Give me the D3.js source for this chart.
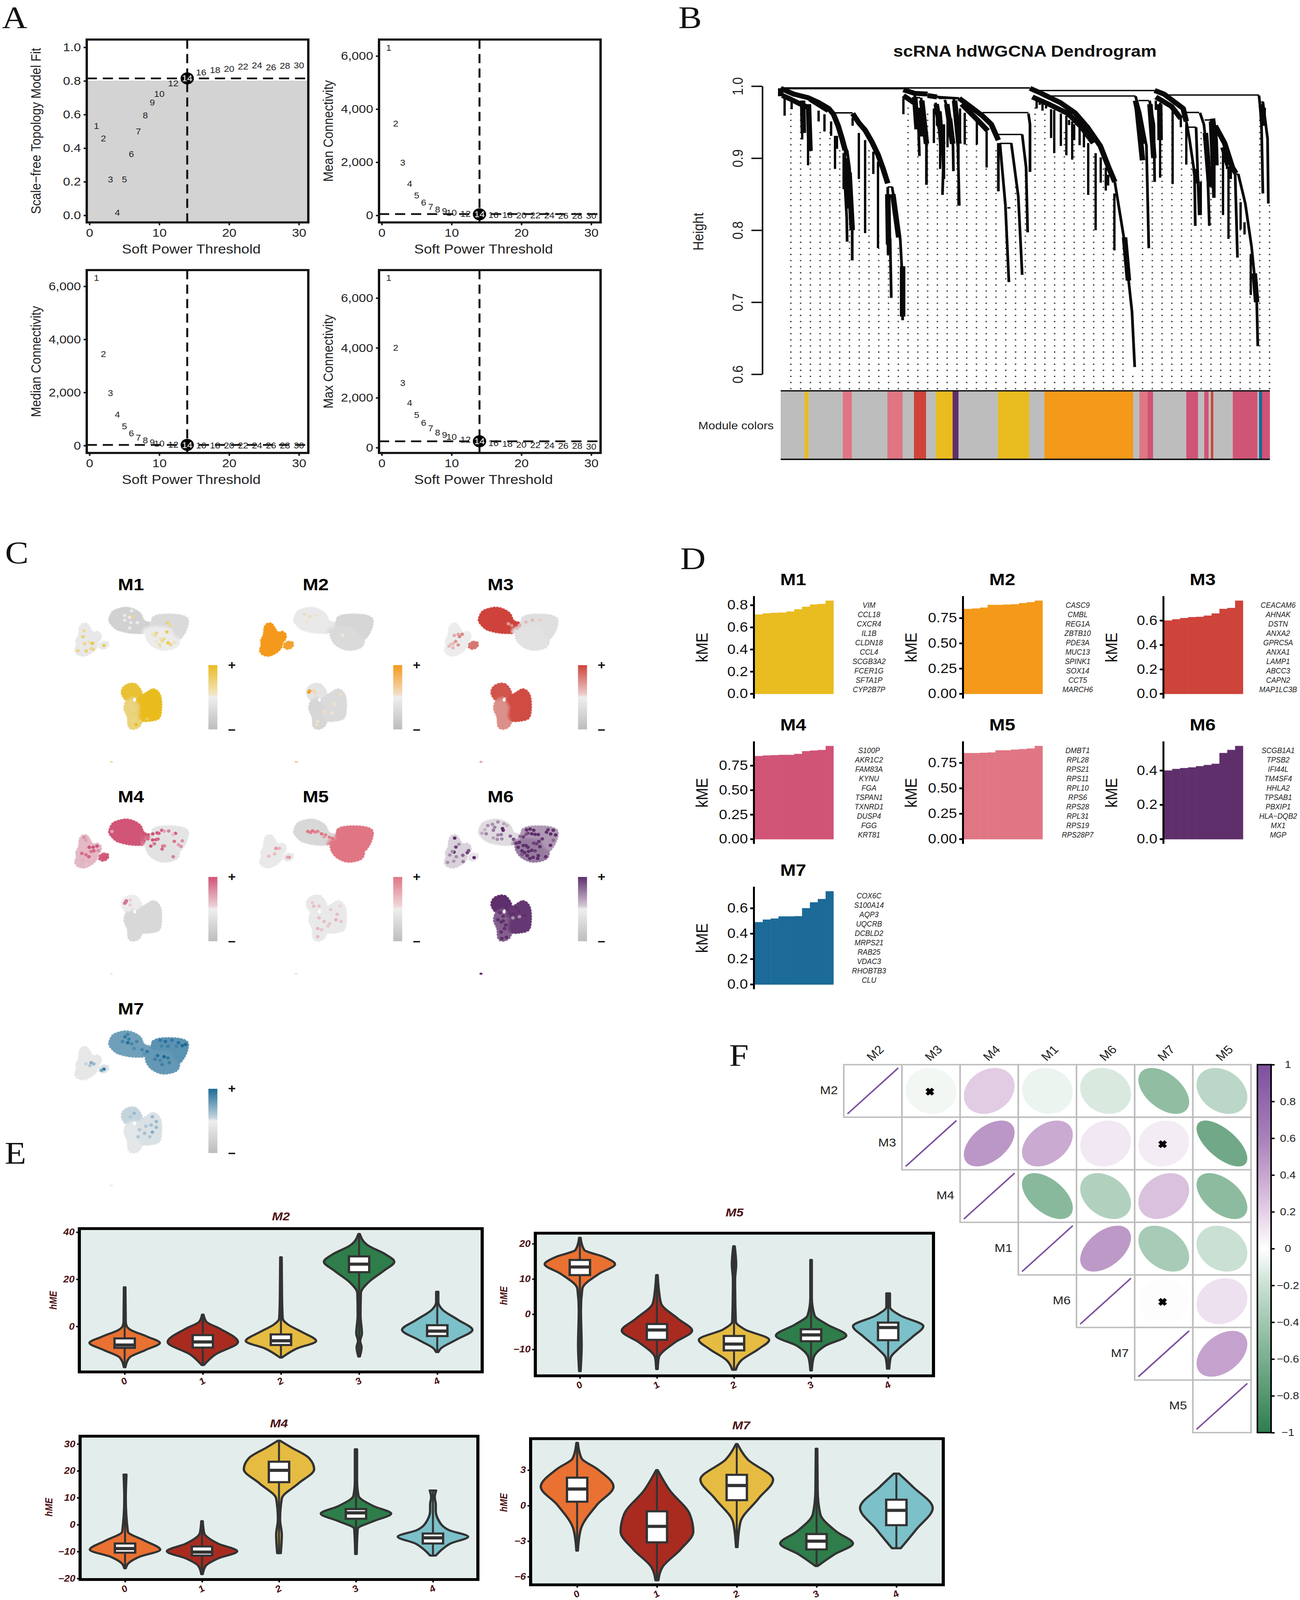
<!DOCTYPE html>
<html><head><meta charset="utf-8">
<style>html,body{margin:0;padding:0;background:#fff;overflow:hidden}svg{display:block}text{font-family:"Liberation Sans",Arial,sans-serif}</style>
<script src="https://cdn.jsdelivr.net/npm/d3@7"></script></head><body><div id="c"></div>
<script>
// ---------- Panel A data
const softPowers=[1,2,3,4,5,6,7,8,9,10,12,14,16,18,20,22,24,26,28,30];
const scaleFreeFit=[.532,.458,.215,.017,.213,.365,.50,.595,.671,.724,.787,.815,.852,.865,.873,.886,.894,.882,.89,.894];
const meanConn=[6310,3450,1983,1190,745,480,325,228,168,108,60,40,20,12,5,-5,-5,-8,-8,-15];
const medianConn=[6326,3446,1976,1169,723,458,301,193,120,84,36,24,8,5,2,0,0,0,0,0];
const maxConn=[6808,4013,2590,1795,1320,1000,782,615,513,436,320,256,192,154,128,102,90,77,77,51];
// ---------- Panel B data
const moduleColors={M1:"#E9BC1F",M2:"#F4991A",M3:"#CE433A",M4:"#D05476",M5:"#E07683",M6:"#5F2F6C",M7:"#1B6A97",grey:"#BDBDBD"};
const stripModules=["grey","M1","grey","M5","grey","M5","grey","M3","grey","M1","M1","M6","grey","M1","grey","M2","grey","M5","M4","grey","M4","grey","M4","grey","M3","grey","M4","grey","M7","M4"];
const stripEnds=[61,71,159,182,273,312,341,372,397,415,440,455,556,636,675,902,918,939,953,1038,1068,1084,1095,1101,1107,1157,1220,1224,1232,1252];
const topMerges=[[0,314,.997],[314,638,.9975],[646,957,.9939],[679,908,.9863],[981,1224,.9877]];
const subMerges=[[135,184,.9629],[516,634,.9633],[555,618,.9329],[561,590,.9205],[163,172,.9118],[274,286,.860],[343,376,.989],[347,357,.984],[404,457,.983],[580,588,.831],[916,942,.980],[1034,1071,.9635],[1085,1099,.953],[1044,1063,.943],[1163,1171,.878],[1230,1236,.978]];
const thickBranches=[
[[0,.997],[16,.993],[33,.989],[70,.984],[98,.977],[123,.969],[135,.961],[147,.945],[157,.927],[165,.911]],
[[4,.987],[25,.982],[47,.976],[68,.971]],[[0,.997],[0,.986]],[[75,.982],[122,.966]],
[[184,.962],[200,.949],[216,.939],[233,.923],[249,.905],[261,.887],[274,.865]],
[[314,.995],[343,.990],[376,.989]],[[314,.987],[341,.977]],[[376,.987],[400,.985]],
[[457,.983],[482,.973],[516,.959],[539,.947],[557,.925]],
[[638,.997],[663,.991],[716,.977],[753,.963],[785,.943],[818,.917],[838,.889],[855,.867]],
[[912,.971],[926,.897]],[[957,.994],[981,.989],[1030,.969],[1038,.951]],
[[1112,.945],[1136,.921],[1156,.887],[1165,.879]],[[355,.97],[358,.93]],[[405,.965],[412,.92]],[[432,.955],[440,.92]],
[[644,.985],[690,.974],[735,.962],[770,.943],[800,.921]],[[960,.985],[1000,.972],[1024,.955]],[[463,.975],[500,.955],[530,.938]],[[1105,.955],[1112,.925],[1114,.89]],[[1235,.97],[1234,.945]],
[[343,.985],[349,.94]],[[361,.98],[373,.92]],[[398,.975],[415,.92]],[[425,.975],[440,.92]],[[445,.98],[456,.92]],[[56,.98],[58,.935]],[[71,.975],[75,.91]],[[165,.90],[172,.83]],[[175,.88],[183,.80]],[[274,.85],[276,.78]],[[287,.85],[302,.79]],[[312,.75],[312,.68]],
[[908,.98],[920,.95]],[[915,.965],[930,.92]],[[945,.975],[955,.90]],[[970,.975],[971,.925]],[[1060,.885],[1066,.865]],[[1087,.935],[1098,.86]],[[1110,.94],[1112,.90]],[[1132,.915],[1145,.89]],[[1212,.74],[1218,.70]],[[1230,.975],[1234,.945]],[[880,.79],[890,.73]]];
const thinBranches=[
[[165,.911],[163,.887],[165,.857],[169,.817],[170,.784]],[[170,.911],[176,.887],[180,.857],[183,.827],[183,.758]],
[[274,.860],[274,.807],[275,.765]],[[285,.860],[292,.837],[300,.807],[306,.787],[310,.747],[312,.693],[312,.675]],[[280,.789],[283,.706]],
[[343,.987],[351,.957],[353,.937],[355,.903]],[[359,.984],[369,.947],[373,.917],[373,.863]],
[[400,.985],[457,.983]],[[396,.977],[412,.937],[416,.887],[414,.849]],[[420,.981],[433,.957],[441,.917],[442,.882]],[[443,.983],[453,.927],[457,.834]],
[[557,.921],[557,.854]],[[561,.921],[575,.835],[584,.728]],[[590,.921],[608,.847],[618,.738]],[[618,.933],[628,.887],[632,.797]],[[634,.962],[638,.947],[638,.881]],
[[855,.867],[867,.827],[879,.787],[891,.727],[899,.687],[906,.610]],[[908,.986],[920,.963],[936,.917],[942,.775]],[[944,.980],[955,.947],[957,.867]],
[[1038,.951],[1046,.927],[1059,.879],[1061,.806]],[[1073,.963],[1083,.947],[1091,.907],[1097,.806]],[[1063,.943],[1071,.821]],
[[1171,.878],[1189,.837],[1205,.777],[1218,.707],[1221,.639]],[[1163,.878],[1169,.762]],[[1099,.951],[1108,.845]],
[[1224,.987],[1230,.957],[1234,.851]],[[1234,.978],[1246,.927],[1248,.837]]];
const drops=[[10,.983,.959],[28,.979,.968],[55,.979,.926],[59,.975,.939],[70,.973,.890],[97,.966,.951],[112,.961,.937],[129,.951,.931],[139,.931,.885],[144,.931,.913],[161,.907,.857],[184,.956,.945],[200,.935,.871],[216,.925,.796],[237,.909,.878],[249,.895,.775],[314,.983,.961],[527,.937,.887],[502,.955,.919],[471,.963,.919],[459,.969,.927],[392,.969,.921],[400,.955,.945],[455,.927,.835],[418,.947,.871],[408,.937,.885],[427,.957,.915],
[655,.980,.969],[663,.979,.974],[670,.977,.966],[679,.973,.969],[692,.968,.928],[700,.967,.907],[717,.962,.917],[731,.959,.904],[738,.953,.946],[746,.951,.898],[751,.947,.925],[765,.943,.918],[776,.936,.915],[787,.921,.849],[806,.907,.800],[819,.901,.866],[832,.887,.855],[838,.877,.862],[854,.851,.772],[883,.787,.748],[960,.980,.967],[971,.977,.873],[1003,.966,.864],[1024,.957,.943],[1038,.947,.891],[1110,.947,.845],[1132,.915,.821],[1146,.889,.788],[1152,.891,.871],[1187,.811,.794],[1203,.767,.710],[1177,.839,.801],[1142,.903,.885],[1075,.867,.821]];
const guideTops=[.970,.961,.961,.944,.944,.911,.860,.920,.911,.792,.831,.776,.970,.928,.961,.953,.945,.920,.953,.944,.928,.911,.826,.869,.877,.970,.961,.953,.944,.936,.911,.902,.886,.844,.785,.60,.894,.911,.961,.953,.944,.894,.937,.928,.902,.869,.843,.759,.953,.835];
// ---------- Panel C data (UMAP units)
const umapRegions=[
[[135,200],[160,212],[178,245],[205,282],[235,272],[260,295],[255,330],[235,355],[225,400],[190,440],[130,468],[85,452],[72,425],[85,380],[80,345],[100,300],[110,225]],
[[262,370],[290,358],[315,365],[315,385],[290,408],[262,405],[255,390]],
[[360,100],[400,80],[460,68],[520,85],[565,120],[585,170],[600,185],[640,200],[640,225],[600,270],[550,275],[480,270],[420,255],[385,240],[335,180],[335,155]],
[[660,180],[670,150],[720,130],[880,135],[925,160],[925,210],[900,280],[860,330],[830,300],[800,240],[740,225],[650,225]],
[[585,250],[650,225],[740,225],[800,240],[830,300],[860,330],[850,385],[820,405],[740,418],[680,395],[640,360],[615,295],[640,270],[590,270]],
[[490,715],[530,720],[570,780],[570,810],[520,820],[470,850],[430,790],[445,740]],
[[470,850],[510,825],[538,860],[560,900],[555,1000],[570,1030],[555,1070],[510,1090],[485,1075],[475,990],[450,920]],
[[605,800],[670,762],[710,800],[722,930],[705,1000],[640,1020],[580,1020],[555,1000],[560,900],[538,860],[570,820]]];
const umapSpeck=[345,1374];
const umapGap=[[512,845],[526,826],[534,856],[520,862]];
const modules=["M1","M2","M3","M4","M5","M6","M7"];
const regionLevels={M1:[-.12,-.1,-.6,-.4,-.05,.9,.55,1,.3],M2:[1,.9,-.1,-.5,-.4,-.2,-.5,-.4,.35],M3:[-.05,.7,1,-.3,-.25,.9,.55,.95,.4],M4:[.35,.95,1,-.2,-.25,-.05,-.45,-.45,-.05],M5:[-.1,-.1,-.45,1,1,-.1,-.1,-.1,-.1],M6:[.15,.05,.1,.45,.6,1,.75,.95,1],M7:[-.15,.1,.6,.7,.65,.2,.05,.1,-.05]};
const cellsM1=[[507,137,.5],[775,190,.6],[795,218,.4],[772,270,.7],[690,280,.5],[680,300,.35],[720,325,.2],[750,328,.4],[735,345,.45],[780,362,.75],[800,378,.5],[830,358,.25],[715,375,.3],[720,390,.25],[665,290,.2],[688,352,.15],[135,260,.4],[127,310,.6],[140,370,.5],[178,358,.3],[200,367,.8],[88,430,.5],[152,432,.6],[190,412,.45],[205,417,.5],[288,385,.7],[447,130,-.1],[447,170,-.1],[495,190,-.15],[487,235,-.1],[545,190,-.1],[484,145,-.1],[500,90,-.1],[510,940,.5],[490,900,.5],[520,960,.6],[510,1025,.5],[535,1057,.95],[565,1030,.6],[620,1010,.7]];
const cellsM2=[[443,781,1],[448,771,.9],[480,770,.3],[490,790,.25],[410,120,.2],[450,140,.2],[500,130,.15],[430,180,.15],[700,300,.1],[560,950,.2],[640,880,.15],[690,800,.2],[500,1060,.2],[510,1030,.15],[620,960,.15]];
const cellsM3=[[555,200,.5],[580,215,.6],[640,215,.4],[690,185,.3],[740,170,.3],[800,170,.2],[620,240,.3],[140,300,.4],[170,290,.4],[200,290,.6],[180,310,.6],[150,350,.5],[130,370,.3],[170,380,.5],[115,375,.25],[100,390,.3],[130,405,.3]];
const cellsM4=[[732,155,.9],[750,163,.5],[785,162,.7],[663,186,1],[697,178,1],[710,182,.9],[837,182,.95],[818,190,.3],[662,237,1],[688,235,.9],[703,230,.85],[582,220,.9],[612,215,.8],[625,228,.85],[595,245,.9],[588,262,.8],[648,290,.95],[675,270,.8],[740,290,.8],[752,288,.7],[735,315,.85],[828,250,.8],[890,245,.6],[860,278,.5],[880,292,.6],[820,380,.7],[175,300,1],[205,300,1],[235,290,1],[210,330,.9],[245,328,.6],[190,335,.8],[118,352,.85],[150,363,.8],[172,380,.9],[135,215,.6],[150,240,.5],[125,410,.4],[155,445,.3],[288,385,1],[300,378,1],[350,165,.5],[455,765,.8],[448,775,.8],[460,755,.8],[490,790,.2],[490,748,.2],[483,830,-.02]];
const cellsM5=[[435,165,1],[455,175,.9],[470,160,1],[490,170,.9],[510,165,.9],[540,185,1],[570,195,.9],[600,215,.9],[625,225,1],[560,210,.7],[190,310,.7],[215,310,.5],[135,375,.4],[180,355,.4],[290,385,.8],[278,385,.6],[470,770,.3],[480,800,.4],[520,800,.35],[610,830,.3],[660,870,.4],[680,800,.2],[520,900,.4],[560,930,.4],[600,950,.35],[650,915,.5],[690,930,.35],[510,990,.45],[540,1000,.35],[590,970,.3],[510,1060,.4]];
const cellsM6=[[510,140,1],[515,155,1],[143,222,1],[137,340,1],[152,298,.9],[240,345,.9],[250,328,.8],[205,368,.7],[292,388,1],[695,152,1],[722,145,1],[750,155,1],[735,185,1],[760,190,1],[785,192,1],[705,180,.9],[690,190,.8],[860,150,.95],[900,155,1],[848,172,1],[880,187,1],[918,195,1],[815,228,.95],[790,250,.95],[750,265,.9],[772,270,.9],[878,283,1],[900,240,.7],[797,295,1],[570,205,.7],[595,232,.8],[645,207,.7],[670,212,.9],[615,265,.95],[640,258,1],[630,300,1],[690,285,1],[705,300,1],[670,285,1],[660,330,1],[680,345,1],[710,335,1],[735,325,1],[760,330,.9],[700,370,1],[720,395,1],[745,385,1],[785,370,1],[780,395,1],[842,380,1],[660,360,.8],[88,428,.5],[135,418,.45],[208,422,.6],[105,365,.5],[155,380,.5],[175,275,.5],[125,335,.5],[397,115,.5],[433,105,.5],[475,85,.5],[440,155,.6],[385,185,.55],[352,180,.35],[375,150,.3],[470,232,.5],[505,228,.5],[500,192,.6],[475,195,.55],[440,220,.4],[450,130,.55],[520,100,.4],[545,115,.3],[490,855,1],[515,885,1],[475,915,1],[500,935,1],[515,925,1],[535,960,1],[525,990,1],[500,1020,1],[505,1075,1],[540,1065,1],[595,865,1],[635,845,1],[620,815,1],[565,870,1],[550,880,.9],[680,880,1],[590,900,.5],[640,890,.5],[560,790,1],[550,825,1]];
const cellsM7=[[450,110,.9],[470,90,.8],[480,130,.85],[470,160,.95],[430,150,.8],[500,170,.8],[540,150,.8],[520,210,.75],[580,220,.8],[620,235,.9],[600,250,.7],[720,140,.9],[760,150,.95],[810,140,.9],[860,160,.95],[890,185,1],[915,175,1],[780,190,.85],[730,190,.8],[845,190,.8],[700,270,.95],[750,280,1],[680,300,.85],[720,310,.8],[780,290,.9],[790,330,.85],[735,345,.85],[190,330,.5],[210,340,.4],[150,340,.2],[180,355,.3],[288,385,.9],[270,395,.6],[520,760,.4],[490,790,.3],[660,790,.4],[690,830,.4],[650,860,.35],[610,870,.3],[560,900,.3],[660,920,.5],[690,880,.4],[640,960,.3],[550,960,.3],[600,930,.35]];
const moduleCells={M1:cellsM1,M2:cellsM2,M3:cellsM3,M4:cellsM4,M5:cellsM5,M6:cellsM6,M7:cellsM7};
// ---------- Panel D data
const genesM1=["VIM","CCL18","CXCR4","IL1B","CLDN18","CCL4","SCGB3A2","FCER1G","SFTA1P","CYP2B7P"];
const genesM2=["CASC9","CMBL","REG1A","ZBTB10","PDE3A","MUC13","SPINK1","SOX14","CCT5","MARCH6"];
const genesM3=["CEACAM6","AHNAK","DSTN","ANXA2","GPRC5A","ANXA1","LAMP1","ABCC3","CAPN2","MAP1LC3B"];
const genesM4=["S100P","AKR1C2","FAM83A","KYNU","FGA","TSPAN1","TXNRD1","DUSP4","FGG","KRT81"];
const genesM5=["DMBT1","RPL28","RPS21","RPS11","RPL10","RPS6","RPS28","RPL31","RPS19","RPS28P7"];
const genesM6=["SCGB1A1","TPSB2","IFI44L","TM4SF4","HHLA2","TPSAB1","PBXIP1","HLA\u2212DQB2","MX1","MGP"];
const genesM7=["COX6C","S100A14","AQP3","UQCRB","DCBLD2","MRPS21","RAB25","VDAC3","RHOBTB3","CLU"];
const kmeM1=[.715,.725,.73,.732,.742,.762,.785,.805,.81,.84];
const kmeM2=[.84,.844,.853,.88,.88,.883,.886,.898,.907,.922];
const kmeM3=[.60,.61,.62,.6275,.63,.64,.6575,.695,.7025,.7625];
const kmeM4=[.847,.853,.856,.859,.859,.869,.897,.903,.909,.95];
const kmeM5=[.846,.846,.849,.852,.873,.873,.88,.885,.891,.916];
const kmeM6=[.40,.409,.414,.418,.425,.432,.439,.502,.52,.543];
const kmeM7=[.49,.51,.518,.535,.535,.537,.60,.646,.672,.733];
const kmeTicks={M1:[0,.2,.4,.6,.8],M2:[0,.25,.5,.75],M3:[0,.2,.4,.6],M4:[0,.25,.5,.75],M5:[0,.25,.5,.75],M6:[0,.2,.4],M7:[0,.2,.4,.6]};
// ---------- Panel F data
const corrOrder=["M2","M3","M4","M1","M6","M7","M5"];
const corrRows=[[1,-.05,.22,-.07,-.14,-.48,-.27],[1,.48,.38,.1,.08,-.65],[1,-.52,-.32,.27,-.50],[1,.47,-.37,-.2],[1,.01,.13],[1,.42],[1]];
const corrNS=[[0,1],[1,5],[4,5]];
const corrTicks=[1,.8,.6,.4,.2,0,-.2,-.4,-.6,-.8,-1];
// ---------- Panel E data: each violin = profile [hME,density], box [q1,median,q3]
const clusters=[0,1,2,3,4];
const violinColors=["#E97132","#A92B20","#E5BB42","#2E7D4A","#7CC0C9"];
const vM2=[[[16.6,.02],[2,.03],[0,.06],[-1.2,.14],[-4.4,.65],[-7,1],[-10,.6],[-13.2,.14],[-17.3,.02]],[[5,.02],[2,.1],[-1.1,.5],[-6.6,1],[-12,.35],[-16.4,.03]],[[29.3,.02],[12,.03],[3.3,.05],[.8,.2],[-2.4,.6],[-6.2,1],[-9.4,.45],[-13.2,.03]],[[39.2,.02],[34.4,.25],[30.6,.75],[27.4,1],[23.6,.7],[18.5,.25],[14.1,.05],[4.6,.04],[-3,.08],[-6.2,.03],[-8.8,.07],[-12.8,.02]],[[14.7,.03],[10.3,.03],[7.1,.15],[2.7,.6],[-1.5,1],[-5.6,.55],[-9.4,.1],[-10.9,.03]]];
const bM2=[[-9.1,-7.9,-5.1],[-9,-6.6,-3.7],[-7.9,-6.1,-3.4],[23,26.4,29.7],[-4.1,-2,.5]];
const vM5=[[[21.7,.02],[18.3,.12],[16.2,.7],[14.2,1],[11.5,.55],[7.2,.07],[1.2,.03],[-9,.05],[-16.2,.02]],[[11.1,.02],[6.4,.06],[3,.12],[-1.3,.6],[-4.7,1],[-8.1,.5],[-12.4,.05],[-15.6,.02]],[[19.3,.02],[14.1,.06],[9.8,.03],[-2.1,.05],[-4.3,.3],[-7.3,1],[-9.9,.7],[-13.2,.2],[-15.8,.05]],[[15.4,.02],[4.7,.02],[-.4,.1],[-2.9,.45],[-6.1,1],[-9,.4],[-12.4,.07],[-16,.02]],[[5.9,.05],[2.1,.05],[-.4,.35],[-3.4,1],[-6.4,.7],[-9.8,.3],[-12.4,.07],[-15.5,.03]]];
const bM5=[[11.1,13.4,15.4],[-7.3,-4.5,-2.8],[-10.3,-8.5,-6.2],[-7.7,-5.9,-4.3],[-7.4,-3.8,-2.4]];
const vM4=[[[18.6,.04],[9.7,.02],[-2.6,.08],[-5.9,.55],[-9.3,1],[-12,.4],[-14.3,.1],[-16.2,.02]],[[1.3,.02],[-3.1,.06],[-7,.45],[-9.9,1],[-12.6,.45],[-15.4,.1],[-18.4,.02]],[[31.2,.03],[28.7,.35],[24.8,.85],[20.6,1],[15.3,.55],[9.7,.08],[1.9,.03],[-3.7,.08],[-10.6,.05]],[[28,.03],[16.4,.03],[10.8,.07],[6.9,.5],[4.1,1],[1.3,.5],[-1.5,.05],[-10.9,.02]],[[12.7,.09],[10.3,.05],[7.5,.08],[5.2,.08],[1.9,.15],[-2,.45],[-4.5,1],[-7,.5],[-9.3,.25],[-11.5,.08]]];
const bM4=[[-10.4,-8.9,-7],[-11.5,-10.2,-8.1],[15.8,20.2,23.4],[2.2,4.4,5.8],[-7,-4.9,-3.3]];
const vM7=[[[5.3,.02],[4,.12],[3.1,.55],[1.6,1],[.08,.55],[-2,.1],[-3.8,.02]],[[3,.02],[1.3,.35],[-.7,.9],[-2.2,1],[-3.7,.65],[-5.2,.15],[-6.3,.04]],[[5.2,.02],[3.9,.3],[2.2,1],[.6,.6],[-1.4,.1],[-3.5,.02]],[[4.8,.02],[1.3,.03],[-.7,.1],[-2.2,.55],[-3.2,1],[-4.1,.5],[-5.1,.03]],[[2.7,.07],[1.6,.45],[-.2,1],[-2,.55],[-3.6,.12]]];
const bM7=[[.33,1.4,2.36],[-3.1,-1.75,-.48],[.46,1.7,2.6],[-3.7,-3,-2.4],[-1.65,-.4,.5]];

const W=3327,H=4532;
// the browser window may be shorter than the design height: keep the whole figure in view
const shownH=Math.min(window.innerHeight||H,H);
const svg=d3.select("#c").append("svg").attr("width",W).attr("height",shownH).attr("viewBox",[0,0,W,H]).attr("preserveAspectRatio","none");
svg.append("rect").attr("width",W).attr("height",H).attr("fill","#fff");
const defs=svg.append("defs");
const serif='"Liberation Serif",serif';
[["A",5,80],["B",1736,80],["C",13,1595],["D",1741,1612],["E",12,3296],["F",1866,3020]].forEach(([t,x,y])=>
 svg.append("text").text(t).attr("x",x).attr("y",y).attr("font-size",90).style("font-family",serif).attr("fill","#111"));

// ---------- A
function softPanel(o){
 const g=svg.append("g"), [l,r,t,b]=o.frame;
 if(o.shade!=null){g.append("rect").attr("x",l).attr("width",r-l).attr("y",o.y(o.shade)).attr("height",b-o.y(o.shade)).attr("fill","#d3d3d3");}
 const x=d3.scaleLinear().domain([0,30]).range([l+7,l+543]);
 const yAx=g.append("g").attr("transform",`translate(${l},0)`).call(d3.axisLeft(o.y).tickValues(o.ticks).tickSize(8).tickPadding(7).tickFormat(o.fmt));
 const xAx=g.append("g").attr("transform",`translate(0,${b})`).call(d3.axisBottom(x).tickValues([0,10,20,30]).tickSize(8).tickPadding(9));
 [yAx,xAx].forEach(a=>{a.select(".domain").remove();a.selectAll("line").attr("stroke","#111").attr("stroke-width",4);a.selectAll("text").attr("font-size",33).attr("fill","#222");});
 const dash=s=>s.attr("stroke","#111").attr("stroke-width",5).attr("stroke-dasharray","26,15");
 dash(g.append("line").attr("x1",l).attr("x2",r).attr("y1",o.y(o.hline)).attr("y2",o.y(o.hline)));
 dash(g.append("line").attr("x1",x(14)).attr("x2",x(14)).attr("y1",t).attr("y2",b));
 g.selectAll("text.p").data(softPowers.map((p,i)=>[p,o.vals[i]])).enter().append("text").attr("class","p")
  .attr("x",d=>x(d[0])).attr("y",d=>o.y(d[1])).attr("dy",".36em").attr("text-anchor","middle").attr("font-size",24).attr("fill",d=>d[0]==14?"#fff":"#222")
  .text(d=>d[0]);
 g.insert("circle","text.p").attr("cx",x(14)).attr("cy",o.y(o.vals[11])).attr("r",17).attr("fill","#000");
 g.append("rect").attr("x",l).attr("y",t).attr("width",r-l).attr("height",b-t).attr("fill","none").attr("stroke","#111").attr("stroke-width",6);
 g.append("text").text("Soft Power Threshold").attr("x",(l+r)/2-16).attr("y",b+88).attr("text-anchor","middle").attr("font-size",37).attr("fill","#222");
 g.append("text").text(o.title).attr("transform",`translate(${o.tx},${(t+b)/2}) rotate(-90)`).attr("text-anchor","middle").attr("font-size",35).attr("fill","#222");
}
const comma=d3.format(",");
softPanel({frame:[222,789,112,630],y:d3.scaleLinear().domain([0,1]).range([610,134]),ticks:[0,.2,.4,.6,.8,1],fmt:d3.format(".1f"),vals:scaleFreeFit,hline:.815,shade:.802,title:"Scale\u2212free Topology Model Fit",tx:104});
softPanel({frame:[970,1537,112,630],y:d3.scaleLinear().domain([0,6000]).range([610,158.5]),ticks:[0,2000,4000,6000],fmt:comma,vals:meanConn,hline:50,title:"Mean Connectivity",tx:852});
softPanel({frame:[222,789,765,1283],y:d3.scaleLinear().domain([0,6000]).range([1262,811]),ticks:[0,2000,4000,6000],fmt:comma,vals:medianConn,hline:24,title:"Median Connectivity",tx:104});
softPanel({frame:[970,1537,765,1283],y:d3.scaleLinear().domain([0,6000]).range([1268,844]),ticks:[0,2000,4000,6000],fmt:comma,vals:maxConn,hline:256,title:"Max Connectivity",tx:852});

// ---------- B
(function(){
 const g=svg.append("g");
 const x=d3.scaleLinear().domain([0,1252]).range([1998,3250]);
 const y=d3.scaleLinear().domain([.6,1]).range([1060,244]);
 g.append("text").text("scRNA hdWGCNA Dendrogram").attr("x",2623).attr("y",161).attr("text-anchor","middle").attr("font-size",45.5).attr("font-weight","bold").attr("fill","#111");
 const ax=g.append("g").attr("transform","translate(1951,0)").call(d3.axisLeft(y).tickValues([.6,.7,.8,.9,1]).tickSize(28).tickSizeOuter(0).tickFormat(d3.format(".1f")));
 ax.selectAll("line").attr("stroke","#111").attr("stroke-width",4);
 ax.select(".domain").attr("stroke","#111").attr("stroke-width",4);
 ax.selectAll("text").attr("font-size",37).attr("fill","#222").attr("text-anchor","middle").attr("x",null).attr("dy",null).attr("transform","translate(-50,0) rotate(-90)");
 g.append("text").text("Height").attr("transform","translate(1800,656) rotate(-90)").attr("text-anchor","middle").attr("font-size",37).attr("fill","#222");
 const rowBase=.58005,rowStep=.008465;
 const dots=[];guideTops.forEach((t,i)=>{d3.range(0,47).forEach(k=>{const h=rowBase+k*rowStep;if(h<=t)dots.push([26+25*i,h]);});});
 g.append("g").selectAll("circle").data(dots).enter().append("circle").attr("cx",d=>x(d[0])).attr("cy",d=>y(d[1])).attr("r",2.1).attr("fill","#444");
 const line=d3.line().x(d=>x(d[0])).y(d=>y(d[1])).curve(d3.curveLinear);
 const br=(data,w)=>g.append("g").selectAll("path").data(data).enter().append("path").attr("d",line).attr("fill","none").attr("stroke","#0a0808").attr("stroke-width",w).attr("stroke-linejoin","round");
 br(thinBranches,7);
 g.append("g").selectAll("line").data(drops).enter().append("line").attr("x1",d=>x(d[0])).attr("x2",d=>x(d[0])).attr("y1",d=>y(d[1])).attr("y2",d=>y(d[2])).attr("stroke","#0a0808").attr("stroke-width",6);
 br(thickBranches,14);
 g.append("g").selectAll("line").data(topMerges).enter().append("line").attr("x1",d=>x(d[0])).attr("x2",d=>x(d[1])).attr("y1",d=>y(d[2])).attr("y2",d=>y(d[2])).attr("stroke","#0a0808").attr("stroke-width",(d,i)=>i==0?6:4);
 g.append("g").selectAll("line").data(subMerges).enter().append("line").attr("x1",d=>x(d[0])).attr("x2",d=>x(d[1])).attr("y1",d=>y(d[2])).attr("y2",d=>y(d[2])).attr("stroke","#0a0808").attr("stroke-width",4);
 g.append("g").selectAll("rect").data(stripModules).enter().append("rect").attr("x",(d,i)=>x(i?stripEnds[i-1]:0)).attr("width",(d,i)=>x(stripEnds[i])-x(i?stripEnds[i-1]:0)).attr("y",1107).attr("height",194).attr("fill",d=>moduleColors[d]);
 [1107,1301].forEach(v=>g.append("line").attr("x1",1998).attr("x2",3250).attr("y1",v).attr("y2",v).attr("stroke","#111").attr("stroke-width",4));
 g.append("text").text("Module colors").attr("x",1980).attr("y",1216).attr("text-anchor","end").attr("font-size",31).attr("fill","#222");
})();

// ---------- C
defs.append("filter").attr("id","soft").attr("x","-10%").attr("y","-10%").attr("width","120%").attr("height","120%").append("feGaussianBlur").attr("stdDeviation",3.5);
modules.forEach((m,i)=>{
 const ox=170+(i%3)*473,oy=1700+Math.floor(i/3)*600;
 const g=svg.append("g");
 const x=d3.scaleLinear().domain([0,1260]).range([ox,ox+420]);
 const y=d3.scaleLinear().domain([0,1260]).range([oy,oy+420]);
 const ramp=v=>v>=0?d3.interpolateRgb("#eeeeee",moduleColors[m])(v):d3.interpolateRgb("#eeeeee","#bdbdbd")(-v);
 const lv=regionLevels[m];
 const poly=d3.line().x(d=>x(d[0])).y(d=>y(d[1])).curve(d3.curveCatmullRomClosed);
 g.append("g").selectAll("path").data(umapRegions).enter().append("path").attr("d",poly).attr("fill",(d,k)=>ramp(lv[k]))
   .attr("stroke",(d,k)=>ramp(lv[k])).attr("stroke-width",9).attr("stroke-linecap","round").attr("stroke-dasharray","0,8");
 g.append("g").attr("filter","url(#soft)").selectAll("path").data(umapRegions).enter().append("path").attr("d",poly).attr("fill",(d,k)=>ramp(lv[k]));
 g.append("path").datum(umapGap).attr("d",poly).attr("fill","#fff");
 g.append("g").selectAll("circle").data(moduleCells[m]).enter().append("circle").attr("cx",d=>x(d[0])).attr("cy",d=>y(d[1])).attr("r",4.7).attr("fill",d=>ramp(d[2]));
 g.append("ellipse").attr("cx",x(umapSpeck[0])).attr("cy",y(umapSpeck[1])).attr("rx",4).attr("ry",3).attr("fill",ramp(lv[8]));
 const tx=335+(i%3)*473, ty=1672+Math.floor(i/3)*601;
 g.append("text").text(m).attr("x",tx).attr("y",ty).attr("text-anchor","middle").attr("font-size",48).attr("font-weight","bold").attr("fill","#000");
 const gid="cb"+m, lg=defs.append("linearGradient").attr("id",gid).attr("x1",0).attr("x2",0).attr("y1",0).attr("y2",1);
 lg.append("stop").attr("offset","0").attr("stop-color",moduleColors[m]);
 lg.append("stop").attr("offset","0.45").attr("stop-color",d3.interpolateRgb("#f3f0f0",moduleColors[m])(.22));
 lg.append("stop").attr("offset","0.5").attr("stop-color","#eeeeee");
 lg.append("stop").attr("offset","1").attr("stop-color","#bdbdbd");
 g.append("rect").attr("x",x(1090)).attr("y",y(552)).attr("width",23).attr("height",182).attr("fill",`url(#${gid})`);
 g.append("text").text("+").attr("x",x(1270)).attr("y",y(548)).attr("dy",".36em").attr("text-anchor","middle").attr("font-size",34).attr("font-weight","bold").attr("fill","#111");
 g.append("text").text("\u2212").attr("x",x(1270)).attr("y",y(1100)).attr("dy",".36em").attr("text-anchor","middle").attr("font-size",34).attr("font-weight","bold").attr("fill","#111");
});

// ---------- D
const kme={M1:kmeM1,M2:kmeM2,M3:kmeM3,M4:kmeM4,M5:kmeM5,M6:kmeM6,M7:kmeM7};
const genes={M1:genesM1,M2:genesM2,M3:genesM3,M4:genesM4,M5:genesM5,M6:genesM6,M7:genesM7};
const colAxis=[1929,2464,2977], colTitle=[2030,2565,3078], colGene=[2224,2758,3271];
modules.forEach((m,i)=>{
 const c=i%3,r=Math.floor(i/3),dy=r*411.6,vals=kme[m],mx=d3.max(vals);
 const g=svg.append("g");
 const y=d3.scaleLinear().domain([-.05*mx,1.05*mx]).range([1978+dy,1688+dy]);
 const x=d3.scaleBand().domain(d3.range(vals.length)).range([colAxis[c]+3,colAxis[c]+204]);
 g.append("g").selectAll("rect").data(vals).enter().append("rect").attr("x",(d,k)=>x(k)).attr("width",x.bandwidth()+.5).attr("y",d=>y(d)).attr("height",d=>y(0)-y(d)+1).attr("fill",moduleColors[m]);
 const ax=g.append("g").attr("transform",`translate(${colAxis[c]},0)`).call(d3.axisLeft(y).tickValues(kmeTicks[m]).tickSize(9).tickSizeOuter(0).tickPadding(6).tickFormat(kmeTicks[m].includes(.25)?d3.format(".2f"):d3.format(".1f")));
 ax.select(".domain").attr("stroke","#000").attr("stroke-width",5);
 ax.selectAll("line").attr("stroke","#000").attr("stroke-width",5);
 ax.selectAll("text").attr("font-size",38).attr("fill","#111");
 g.append("text").text("kME").attr("transform",`translate(${colAxis[c]-118},${1834+dy}) rotate(-90)`).attr("text-anchor","middle").attr("font-size",42).attr("fill","#111");
 g.append("text").text(m).attr("x",colTitle[c]).attr("y",1658+dy).attr("text-anchor","middle").attr("font-size",48).attr("font-weight","bold").attr("fill","#000");
 const gy=d3.scalePoint().domain(genes[m]).range([1714+dy,1953+dy]);
 g.append("g").selectAll("text").data(genes[m]).enter().append("text").text(d=>d).attr("transform",d=>`translate(${colGene[c]},${gy(d)}) scale(.84,1)`).attr("dy",".36em").attr("text-anchor","middle").attr("font-size",22).attr("font-style","italic").attr("fill","#222");
});

// ---------- F
(function(){
 const g=svg.append("g");
 const L=2159.4,T=3015.6,S=148.9;
 const x=d3.scaleBand().domain(corrOrder).range([L,L+7*S]);
 const y=d3.scaleBand().domain(corrOrder).range([T,T+7*S]);
 const col=d3.scaleLinear().domain([-1,-.5,-.2,0,.2,.4,.6,1]).range(["#2e7d4f","#8dbb9f","#c9e0d3","#ffffff","#e4d0e6","#c7a6cf","#a981bb","#7d4f9e"]);
 const rad=65;
 const ell=r=>{const d=Math.acos(r);return d3.line().curve(d3.curveLinearClosed)(d3.range(0,360,5).map(a=>{const t=a*Math.PI/180;return [rad*Math.cos(t+d/2),-rad*Math.cos(t-d/2)];}));};
 corrRows.forEach((row,i)=>row.forEach((r,k)=>{
  const a=corrOrder[i],b=corrOrder[i+k];
  g.append("rect").attr("x",x(b)).attr("y",y(a)).attr("width",S).attr("height",S).attr("fill","#fff").attr("stroke","#bdbdbd").attr("stroke-width",4);
  const cg=g.append("g").attr("transform",`translate(${x(b)+S/2},${y(a)+S/2})`);
  if(k==0) cg.append("line").attr("x1",-rad).attr("y1",rad).attr("x2",rad).attr("y2",-rad).attr("stroke","#7d4f9e").attr("stroke-width",4);
  else cg.append("path").attr("d",ell(r)).attr("fill",col(r));
 }));
 corrNS.forEach(([i,j])=>{
  const a=corrOrder[i],b=corrOrder[j];
  g.append("path").attr("transform",`translate(${x(b)+S/2-3},${y(a)+S/2+2})`).attr("d",d3.symbol(d3.symbolTimes,170)()).attr("stroke","#000").attr("stroke-width",9);
 });
 corrOrder.forEach((m,i)=>{
  g.append("text").text(m).attr("x",x(m)-15).attr("y",y(m)+S/2-3).attr("dy",".36em").attr("text-anchor","end").attr("font-size",33).attr("fill","#222");
  g.append("text").text(m).attr("transform",`translate(${x(m)+S/2-2},3007) rotate(-45)`).attr("font-size",33).attr("fill","#222");
 });
 const lg=defs.append("linearGradient").attr("id","corrBar").attr("x1",0).attr("x2",0).attr("y1",1).attr("y2",0);
 col.domain().forEach(v=>lg.append("stop").attr("offset",(v+1)/2).attr("stop-color",col(v)));
 const cy=d3.scaleLinear().domain([-1,1]).range([T+7*S,T]);
 g.append("rect").attr("x",3218).attr("y",T).attr("width",35).attr("height",7*S).attr("fill","url(#corrBar)").attr("stroke","#000").attr("stroke-width",4);
 const ax=g.append("g").attr("transform","translate(3253,0)").call(d3.axisRight(cy).tickValues(corrTicks).tickSize(9).tickPadding(10).tickFormat(d3.format("")));
 ax.select(".domain").remove();
 ax.selectAll("line").attr("stroke","#000").attr("stroke-width",4);
 ax.selectAll("text").attr("x",43).attr("text-anchor","middle").attr("font-size",29).attr("fill","#222");
})();

// ---------- E
function violinPanel(o){
 const g=svg.append("g"),[l,r,t,b]=o.frame,ital="italic",dark="#4a1014";
 const y=d3.scaleLinear().domain(o.yd).range(o.yr);
 const x=d3.scalePoint().domain(clusters).range(o.xr);
 g.append("rect").attr("x",l).attr("y",t).attr("width",r-l).attr("height",b-t).attr("fill","#E3EEEC");
 const mw=o.w||90;
 o.v.forEach((prof,i)=>{
  const c=x(i);
  const area=d3.area().y(d=>y(d[0])).x0(d=>c-mw*d[1]).x1(d=>c+mw*d[1]).curve(d3.curveMonotoneY);
  g.append("path").attr("d",area(prof)).attr("fill",violinColors[i]).attr("stroke","#333").attr("stroke-width",6).attr("stroke-linejoin","round");
  g.append("line").attr("x1",c).attr("x2",c).attr("y1",y(prof[0][0])).attr("y2",y(prof[prof.length-1][0])).attr("stroke","#333").attr("stroke-width",5);
  const [q1,med,q3]=o.b[i];
  g.append("rect").attr("x",c-26).attr("width",52).attr("y",y(q3)).attr("height",y(q1)-y(q3)).attr("fill","#fff").attr("stroke","#333").attr("stroke-width",6);
  g.append("line").attr("x1",c-26).attr("x2",c+26).attr("y1",y(med)).attr("y2",y(med)).attr("stroke","#333").attr("stroke-width",9);
 });
 g.append("rect").attr("x",l).attr("y",t).attr("width",r-l).attr("height",b-t).attr("fill","none").attr("stroke","#000").attr("stroke-width",8);
 const ay=g.append("g").attr("transform",`translate(${l},0)`).call(d3.axisLeft(y).tickValues(o.ticks).tickSize(8).tickPadding(4).tickFormat(d3.format("")));
 const ax=g.append("g").attr("transform",`translate(0,${b})`).call(d3.axisBottom(x).tickSize(8).tickPadding(8));
 [ay,ax].forEach(a=>{a.select(".domain").remove();a.selectAll("line").attr("stroke","#000").attr("stroke-width",4);a.selectAll("text").attr("font-size",26).attr("font-style",ital).attr("font-weight","bold").attr("fill",dark);});
 ax.selectAll("text").attr("transform","rotate(-30,0,30)");
 g.append("text").text(o.title).attr("x",o.tp[0]).attr("y",o.tp[1]).attr("dy",".36em").attr("text-anchor","middle").attr("font-size",33).attr("font-style",ital).attr("font-weight","bold").attr("fill",dark);
 g.append("text").text("hME").attr("transform",`translate(${o.lp[0]},${o.lp[1]}) rotate(-90)`).attr("dy",".36em").attr("text-anchor","middle").attr("font-size",25).attr("font-style",ital).attr("font-weight","bold").attr("fill",dark);
}
violinPanel({title:"M2",frame:[203,1234,3480,3886],yd:[40,0],yr:[3490,3757],xr:[319,1119],v:vM2,b:bM2,ticks:[40,20,0],tp:[719,3445],lp:[136,3683]});
violinPanel({title:"M5",frame:[1370,2389,3493,3897],yd:[20,-10],yr:[3523,3822],xr:[1484,2273],v:vM5,b:bM5,ticks:[20,10,0,-10],tp:[1880,3434],lp:[1289,3670]});
violinPanel({title:"M4",frame:[205,1223,4068,4474],yd:[30,-20],yr:[4090,4471],xr:[320,1108],v:vM4,b:bM4,ticks:[30,20,10,0,-10,-20],tp:[714,4031],lp:[125,4269]});
violinPanel({title:"M7",frame:[1358,2414,4075,4489],yd:[3,-6],yr:[4164,4466],xr:[1477,2294],v:vM7,b:bM7,ticks:[3,0,-3,-6],tp:[1897,4037],lp:[1289,4256],w:93});
</script></body></html>
